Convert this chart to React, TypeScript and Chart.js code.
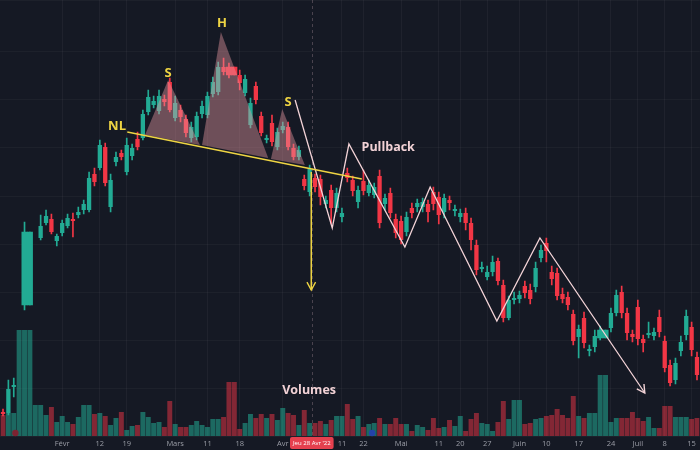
import React, { useEffect, useRef } from 'react';
import { Chart, registerables } from 'chart.js';

Chart.register(...registerables);

// ---- candle data (price units, index = trading session) ----
const OPEN: (number | null)[] = [24,23,49,null,131,131,null,198,213,217,195,203,210,217,221,226,226,262,268,289,229,274,283,264,280,297,298,324,331,325,337,354,318,326,317,298,299,322,321,342,344,369,369,369,361,343,311,350,320,296,313,289,306,309,288,279,257,244,258,257,232,246,228,219,263,256,234,255,243,241,260,232,243,217,215,204,228,229,229,232,244,239,224,236,225,219,223,213,191,167,159,164,175,151,118,136,137,150,146,149,178,193,164,163,142,139,122,99,118,85,89,98,98,108,123,144,123,102,129,97,101,100,119,95,71,56,85,101,109,79];
const HIGH: (number | null)[] = [27,56,58,null,214,204,null,221,226,222,202,216,222,223,229,236,264,268,296,293,262,284,286,298,292,304,326,346,340,346,341,358,340,331,321,314,324,335,344,359,374,378,373,369,366,361,338,354,324,301,321,308,314,314,292,290,261,271,262,261,240,251,248,228,268,260,250,266,256,253,266,242,248,222,220,224,233,237,238,236,249,244,242,240,231,227,228,218,196,174,170,180,178,156,140,144,145,155,152,174,191,198,170,168,148,144,126,111,124,91,106,110,106,128,146,150,128,106,136,101,114,108,126,100,76,78,100,126,114,84];
const LOW: (number | null)[] = [20,21,39,null,126,131,null,196,211,202,190,200,208,199,218,222,224,250,266,250,224,270,276,261,276,286,296,321,328,322,330,324,315,314,299,294,296,318,318,339,341,361,358,361,346,340,308,332,300,293,290,286,303,286,276,276,246,240,244,231,228,212,224,214,254,240,228,241,240,238,208,226,218,198,192,200,218,224,224,214,226,212,218,226,220,214,206,186,161,164,156,160,151,114,116,132,133,138,132,144,174,174,151,136,133,126,91,78,88,80,84,96,98,104,120,118,96,94,91,84,98,96,99,64,50,52,80,96,80,56];
const CLOSE: (number | null)[] = [22,47,51,null,204,204,null,210,220,204,200,213,218,215,224,232,258,254,291,253,256,279,279,291,288,289,322,339,335,340,334,326,333,319,303,309,320,330,340,354,369,364,361,361,353,357,333,336,303,298,294,304,310,289,279,286,250,267,249,239,236,228,243,223,258,245,246,245,251,249,213,238,223,203,196,219,223,233,234,224,232,221,238,233,227,223,213,196,166,169,164,174,155,118,136,138,141,143,137,168,186,185,157,140,137,131,95,107,93,87,100,106,106,123,141,123,103,99,97,93,103,104,104,68,53,73,94,120,86,61];
const VOLUME: number[] = [21,23,23,106,106,106,31,31,21,29,14,20,14,12,19,31,31,22,23,20,11,18,24,6,10,11,24,19,13,14,9,35,12,9,9,11,15,11,9,17,17,19,54,54,7,13,22,18,22,18,22,16,28,23,21,11,26,13,13,15,12,16,20,20,32,17,20,9,12,13,18,12,12,18,12,12,5,11,9,6,18,8,9,16,10,20,5,17,23,13,12,5,14,35,17,36,36,12,13,17,18,20,21,27,21,18,40,20,18,23,23,61,61,14,18,18,18,24,18,15,19,8,8,30,30,19,19,19,17,18];

// sessions drawn as one merged body in the reference (pairs)
const WIDE_BODIES = [4, 5, 42, 43, 111, 112];

// ---- time axis labels ----
const TICK_INDEX = [11, 18, 23, 32, 38, 44, 52, 63, 67, 74, 81, 85, 90, 96, 101, 107, 113, 118, 123, 128];
const TICK_TEXT = ['Févr', '12', '19', 'Mars', '11', '18', 'Avr', '11', '22', 'Mai', '11', '20', '27', 'Juin', '10', '17', '24', 'Juil', '8', '15'];
const CROSSHAIR_INDEX = 57.4;
const CROSSHAIR_TEXT = "Jeu 28 Avr '22";

// ---- drawings (x = session index, y = price) ----
const NECKLINE = [{ x: 23.1, y: 304 }, { x: 66.7, y: 257 }];
const LEFT_SHOULDER = [{ x: 26.4, y: 301 }, { x: 30.7, y: 356 }, { x: 36.6, y: 291 }];
const HEAD = [{ x: 37.0, y: 291 }, { x: 40.5, y: 404 }, { x: 49.3, y: 278 }];
const RIGHT_SHOULDER = [{ x: 49.8, y: 277 }, { x: 51.9, y: 327 }, { x: 56.1, y: 271 }];
const ZIGZAG = [
  { x: 54.3, y: 336 }, { x: 61.2, y: 208 }, { x: 64.3, y: 292 }, { x: 74.7, y: 189 },
  { x: 79.4, y: 249 }, { x: 91.8, y: 115 }, { x: 99.8, y: 198 }, { x: 119.3, y: 43 },
];
const TARGET = [{ x: 57.3, y: 264 }, { x: 57.3, y: 146 }];
const PATTERN_LABELS = [
  { text: 'NL', x: 21.2, y: 310 },
  { text: 'S', x: 30.7, y: 363 },
  { text: 'H', x: 40.7, y: 413 },
  { text: 'S', x: 53.0, y: 334 },
];
const NOTE_LABELS = [
  { text: 'Pullback', x: 71.6, y: 289 },
  { text: 'Volumes', x: 56.9, y: 46 },
];
const MARKERS = [
  { x: 2.3, color: '#7d2231' },
  { x: 68.6, color: '#2443a8' },
];

const BG = '#151924';
const UP = '#22ab94';
const DOWN = '#f23645';
const UP_VOL = 'rgba(34,171,148,0.55)';
const DOWN_VOL = 'rgba(242,54,69,0.5)';
const YELLOW = '#eed443';
const PINK = '#f2d2d6';
const TRI_FILL = 'rgba(229,150,160,0.43)';

function arrowHead(ctx: CanvasRenderingContext2D, fx: number, fy: number, tx: number, ty: number, len: number, color: string) {
  const ang = Math.atan2(ty - fy, tx - fx);
  const a = 0.5;
  ctx.save();
  ctx.strokeStyle = color;
  ctx.lineWidth = 1.4;
  ctx.beginPath();
  ctx.moveTo(tx - len * Math.cos(ang - a), ty - len * Math.sin(ang - a));
  ctx.lineTo(tx, ty);
  ctx.lineTo(tx - len * Math.cos(ang + a), ty - len * Math.sin(ang + a));
  ctx.stroke();
  ctx.restore();
}

export default function App() {
  const ref = useRef<HTMLCanvasElement>(null);

  useEffect(() => {
    document.body.style.margin = '0';
    document.body.style.background = BG;
    const canvas = ref.current;
    if (!canvas) return;
    const n = OPEN.length;
    const labels = Array.from({ length: n }, (_, i) => {
      const k = TICK_INDEX.indexOf(i);
      return k >= 0 ? TICK_TEXT[k] : '';
    });
    const up = OPEN.map((o, i) => (o == null ? true : (CLOSE[i] as number) >= o));
    const isWide = (i: number) => WIDE_BODIES.includes(i);

    const wickData = OPEN.map((o, i) => (o == null ? null : [LOW[i] as number, HIGH[i] as number]));
    const bodyData = OPEN.map((o, i) => (o == null || isWide(i) ? null : [o, CLOSE[i] as number]));
    const wideData = OPEN.map((o, i) => (o == null || !isWide(i) ? null : [o, CLOSE[i] as number]));
    const candleColors = up.map((u) => (u ? UP : DOWN));
    const volColors = up.map((u) => (u ? UP_VOL : DOWN_VOL));

    const overlay = {
      id: 'overlay',
      beforeDraw(chart: any) {
        const c = chart.ctx;
        c.save();
        c.fillStyle = BG;
        c.fillRect(0, 0, chart.width, chart.height);
        c.restore();
      },
      beforeDatasetsDraw(chart: any) {
        const c = chart.ctx;
        const xl = chart.scales.xl;
        const area = chart.chartArea;
        const x = Math.round(xl.getPixelForValue(CROSSHAIR_INDEX)) + 0.5;
        c.save();
        c.strokeStyle = 'rgba(140,120,130,0.45)';
        c.setLineDash([3, 3]);
        c.lineWidth = 1;
        c.beginPath();
        c.moveTo(x, area.top);
        c.lineTo(x, area.bottom);
        c.stroke();
        c.restore();
      },
      afterDatasetsDraw(chart: any) {
        const c = chart.ctx;
        const xl = chart.scales.xl;
        const y = chart.scales.y;
        const px = (v: number) => xl.getPixelForValue(v);
        const py = (v: number) => y.getPixelForValue(v);
        const z1 = ZIGZAG[ZIGZAG.length - 2];
        const z2 = ZIGZAG[ZIGZAG.length - 1];
        arrowHead(c, px(z1.x), py(z1.y), px(z2.x), py(z2.y), 9, PINK);
        arrowHead(c, px(TARGET[0].x), py(TARGET[0].y), px(TARGET[1].x), py(TARGET[1].y), 9, YELLOW);
        c.save();
        c.textAlign = 'center';
        c.textBaseline = 'middle';
        c.font = 'bold 13px "Open Sans", "Noto Sans", sans-serif';
        c.fillStyle = YELLOW;
        PATTERN_LABELS.forEach((l) => c.fillText(l.text, px(l.x), py(l.y)));
        c.fillStyle = PINK;
        c.font = 'bold 12.5px "Open Sans", "Noto Sans", sans-serif';
        NOTE_LABELS.forEach((l) => c.fillText(l.text, px(l.x), py(l.y)));
        const bottom = chart.chartArea.bottom;
        MARKERS.forEach((m) => {
          c.beginPath();
          c.fillStyle = m.color;
          c.arc(px(m.x), bottom - 3, 3.2, 0, Math.PI * 2);
          c.fill();
        });
        c.restore();
      },
      afterDraw(chart: any) {
        const c = chart.ctx;
        const xl = chart.scales.xl;
        const x = xl.getPixelForValue(CROSSHAIR_INDEX);
        const top = chart.chartArea.bottom;
        c.save();
        c.font = '6px "Liberation Sans Narrow", "Open Sans", sans-serif';
        const w = c.measureText(CROSSHAIR_TEXT).width + 6;
        c.fillStyle = '#e5404e';
        c.beginPath();
        if ((c as any).roundRect) (c as any).roundRect(x - w / 2, top + 1, w, 12, 2);
        else c.rect(x - w / 2, top + 1, w, 12);
        c.fill();
        c.fillStyle = '#ffffff';
        c.textAlign = 'center';
        c.textBaseline = 'middle';
        c.fillText(CROSSHAIR_TEXT, x, top + 7.5);
        c.restore();
      },
    };

    const lineBase = {
      type: 'line' as const,
      xAxisID: 'xl',
      yAxisID: 'y',
      pointRadius: 0,
      tension: 0,
    };

    const chart = new Chart(canvas, {
      type: 'bar',
      data: {
        labels,
        datasets: [
          {
            type: 'bar', label: 'Volume', data: VOLUME, yAxisID: 'yv', xAxisID: 'x',
            backgroundColor: volColors, barPercentage: 0.92, categoryPercentage: 1, grouped: false, order: 10,
          } as any,
          {
            type: 'bar', label: 'Wicks', data: wickData, yAxisID: 'y', xAxisID: 'x',
            backgroundColor: candleColors, barThickness: 1, grouped: false, order: 6,
          } as any,
          {
            type: 'bar', label: 'Bodies', data: bodyData, yAxisID: 'y', xAxisID: 'x',
            backgroundColor: candleColors, barPercentage: 0.8, categoryPercentage: 1, grouped: false,
            minBarLength: 1, order: 5,
          } as any,
          {
            type: 'bar', label: 'WideBodies', data: wideData, yAxisID: 'y', xAxisID: 'x',
            backgroundColor: candleColors, barPercentage: 1, categoryPercentage: 1, grouped: false, order: 5,
          } as any,
          { ...lineBase, label: 'LS', data: [...LEFT_SHOULDER, LEFT_SHOULDER[0]], fill: 'shape', backgroundColor: TRI_FILL, borderWidth: 0, order: 2 } as any,
          { ...lineBase, label: 'Head', data: [...HEAD, HEAD[0]], fill: 'shape', backgroundColor: TRI_FILL, borderWidth: 0, order: 2 } as any,
          { ...lineBase, label: 'RS', data: [...RIGHT_SHOULDER, RIGHT_SHOULDER[0]], fill: 'shape', backgroundColor: TRI_FILL, borderWidth: 0, order: 2 } as any,
          { ...lineBase, label: 'Neckline', data: NECKLINE, borderColor: YELLOW, borderWidth: 1.5, fill: false, order: 1 } as any,
          { ...lineBase, label: 'Zigzag', data: ZIGZAG, borderColor: PINK, borderWidth: 1.3, fill: false, order: 1 } as any,
          { ...lineBase, label: 'Target', data: TARGET, borderColor: YELLOW, borderWidth: 1.5, fill: false, order: 1 } as any,
        ],
      },
      options: {
        responsive: false,
        animation: false,
        events: [],
        layout: { padding: 0 },
        plugins: { legend: { display: false }, tooltip: { enabled: false } },
        scales: {
          x: {
            type: 'category',
            offset: true,
            border: { display: false },
            grid: {
              offset: false,
              drawTicks: false,
              color: (ctx: any) => (labels[ctx.index] ? 'rgba(255,255,255,0.045)' : 'transparent'),
            },
            ticks: {
              autoSkip: false,
              maxRotation: 0,
              minRotation: 0,
              padding: 3,
              color: '#9a9da6',
              font: { size: 7.5, family: '"Open Sans", "Noto Sans", sans-serif' },
            },
            afterFit: (s: any) => { s.height = 14; },
          },
          xl: {
            type: 'linear',
            display: false,
            offset: false,
            grid: { offset: false },
            min: -0.5,
            max: n - 0.5,
          },
          y: {
            type: 'linear',
            min: 0,
            max: 436,
            border: { display: false },
            grid: { color: 'rgba(255,255,255,0.035)', drawTicks: false },
            ticks: { display: false, stepSize: 48 },
            afterFit: (s: any) => { s.width = 0; },
          },
          yv: {
            type: 'linear',
            display: false,
            min: 0,
            max: 436,
          },
        },
      },
      plugins: [overlay],
    });
    return () => chart.destroy();
  }, []);

  return (
    <div style={{ width: 700, height: 450, background: BG }}>
      <canvas ref={ref} width={700} height={450} style={{ display: 'block', width: 700, height: 450 }} />
    </div>
  );
}
